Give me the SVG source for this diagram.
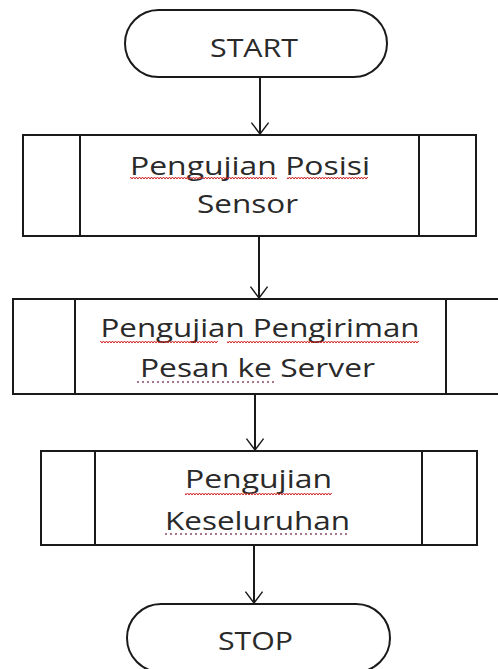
<svg xmlns="http://www.w3.org/2000/svg" width="498" height="669" viewBox="0 0 498 669">
<defs>
<style>
.shape{fill:#fff;stroke:#1a1a1a;stroke-width:2}
.line{fill:none;stroke:#1a1a1a;stroke-width:2}
.lbl{font-family:"Open Sans","Liberation Sans",Arial,sans-serif;font-size:26px;fill:#2a2a2a;text-anchor:middle}
.dot{fill:none;stroke:#8a4a6a;stroke-width:1.5;stroke-dasharray:2 3}
</style>
<marker id="arr" markerUnits="userSpaceOnUse" markerWidth="30" markerHeight="20" viewBox="-18 -14 20 28" refX="0" refY="0" orient="auto">
<path d="M-16,-12 L0,0 L-16,12" fill="none" stroke="#1a1a1a" stroke-width="2"/>
</marker>
<pattern id="wave" width="6" height="4" patternUnits="userSpaceOnUse">
<path d="M0,3 L1.5,1 L3,3 L4.5,1 L6,3" fill="none" stroke="#d02020" stroke-width="1"/>
</pattern>
</defs>
<rect width="498" height="669" fill="#fff"/>
<g id="connectors">
<line class="line" x1="260" y1="77" x2="260" y2="134" marker-end="url(#arr)"/>
<line class="line" x1="259" y1="236" x2="259" y2="298" marker-end="url(#arr)"/>
<line class="line" x1="255" y1="394" x2="255" y2="450" marker-end="url(#arr)"/>
<line class="line" x1="254" y1="545" x2="254" y2="603" marker-end="url(#arr)"/>
</g>
<g id="start">
<rect class="shape" x="125" y="10" width="262" height="67" rx="33.5" ry="33.5"/>
<text class="lbl" x="254" y="57" textLength="88" lengthAdjust="spacingAndGlyphs">START</text>
</g>
<g id="proc1">
<rect class="shape" x="23" y="135" width="453" height="101"/>
<line class="line" x1="80" y1="135" x2="80" y2="236"/>
<line class="line" x1="419" y1="135" x2="419" y2="236"/>
<text class="lbl" x="250" y="175" textLength="240" lengthAdjust="spacingAndGlyphs">Pengujian Posisi</text>
<text class="lbl" x="247.5" y="213" textLength="101" lengthAdjust="spacingAndGlyphs">Sensor</text>
<rect x="130" y="177" width="147" height="4" fill="url(#wave)"/>
<rect x="287" y="177" width="81" height="4" fill="url(#wave)"/>
</g>
<g id="proc2">
<rect class="shape" x="13" y="299" width="495" height="95"/>
<line class="line" x1="75" y1="299" x2="75" y2="394"/>
<line class="line" x1="446" y1="299" x2="446" y2="394"/>
<text class="lbl" x="260" y="337" textLength="319" lengthAdjust="spacingAndGlyphs">Pengujian Pengiriman</text>
<text class="lbl" x="257.5" y="377" textLength="235" lengthAdjust="spacingAndGlyphs">Pesan ke Server</text>
<rect x="100" y="340" width="118" height="4" fill="url(#wave)"/>
<rect x="227" y="340" width="192" height="4" fill="url(#wave)"/>
<line class="dot" x1="137" y1="382" x2="277" y2="382"/>
</g>
<g id="proc3">
<rect class="shape" x="41" y="451" width="436" height="94"/>
<line class="line" x1="95" y1="451" x2="95" y2="545"/>
<line class="line" x1="422" y1="451" x2="422" y2="545"/>
<text class="lbl" x="258.5" y="488" textLength="147" lengthAdjust="spacingAndGlyphs">Pengujian</text>
<text class="lbl" x="257.5" y="530" textLength="185" lengthAdjust="spacingAndGlyphs">Keseluruhan</text>
<rect x="185" y="492" width="147" height="4" fill="url(#wave)"/>
<line class="dot" x1="165" y1="534" x2="350" y2="534"/>
</g>
<g id="stop">
<rect class="shape" x="127" y="604" width="263" height="68" rx="34" ry="34"/>
<text class="lbl" x="255.5" y="650" textLength="75" lengthAdjust="spacingAndGlyphs">STOP</text>
</g>
</svg>
